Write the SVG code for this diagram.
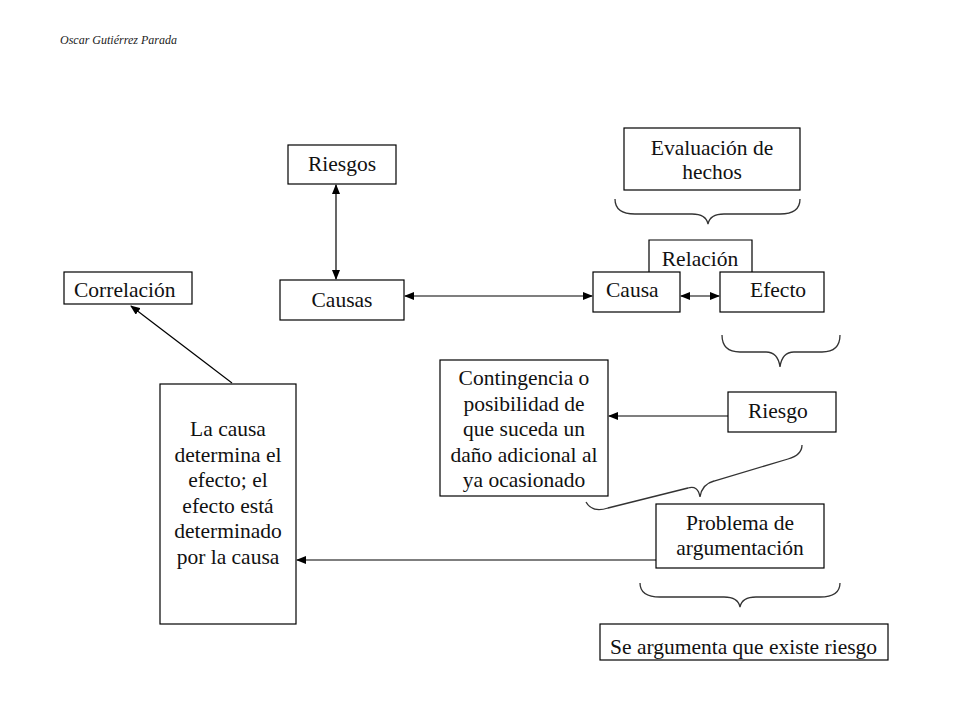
<svg xmlns="http://www.w3.org/2000/svg" width="960" height="720" viewBox="0 0 960 720">
<defs>
<style>
.box{fill:#fff;stroke:#000;stroke-width:1.2}
.t{font-family:"Liberation Serif","Times New Roman",serif;font-size:21.5px;fill:#111}
.c{text-anchor:middle}
.ln{fill:none;stroke:#000;stroke-width:1.2}
.br{fill:none;stroke:#333;stroke-width:1.3}
</style>
<marker id="ah" markerWidth="10" markerHeight="8" refX="9" refY="4" orient="auto-start-reverse" markerUnits="userSpaceOnUse">
<path d="M0,0 L10,4 L0,8 Z" fill="#000"/>
</marker>
</defs>
<rect width="960" height="720" fill="#fff"/>
<text x="60" y="44" style="font-family:'Liberation Serif',serif;font-style:italic;font-size:12px;fill:#222">Oscar Gutiérrez Parada</text>

<g id="connectors">
<line class="ln" x1="336" y1="185" x2="336" y2="279" marker-start="url(#ah)" marker-end="url(#ah)"/>
<line class="ln" x1="405" y1="296" x2="592" y2="296" marker-start="url(#ah)" marker-end="url(#ah)"/>
<line class="ln" x1="681" y1="296" x2="719" y2="296" marker-start="url(#ah)" marker-end="url(#ah)"/>
<line class="ln" x1="728" y1="416" x2="609" y2="416" marker-end="url(#ah)"/>
<line class="ln" x1="656" y1="560" x2="297" y2="560" marker-end="url(#ah)"/>
<line class="ln" x1="232" y1="383" x2="131" y2="306" marker-end="url(#ah)"/>
</g>

<g id="braces">
<path class="br" d="M615,199 Q615,214 635,214 L692,214 Q706,214 708,224 Q710,214 724,214 L780,214 Q800,214 800,199"/>
<path class="br" d="M722,335 Q722,352 740,352 L766,352 Q778,352 780,367 Q782,352 794,352 L822,352 Q840,352 840,335"/>
<path class="br" d="M586,502 Q592,513 608,508 L688,488 Q698,485 700,497 Q702,484 714,481 L788,459 Q802,455 802,445"/>
<path class="br" d="M640,583 Q640,597 660,597 L724,597 Q738,597 740,607 Q742,597 756,597 L820,597 Q840,597 840,583"/>
</g>

<g id="riesgos"><rect class="box" x="288" y="145" width="108" height="39"/><text class="t c" x="342" y="171">Riesgos</text></g>
<g id="causas"><rect class="box" x="280" y="280" width="124" height="40"/><text class="t c" x="342" y="307">Causas</text></g>
<g id="correlacion"><rect class="box" x="64" y="272" width="128" height="32"/><text class="t" x="74" y="297">Correlación</text></g>
<g id="evaluacion"><rect class="box" x="624" y="128" width="176" height="62"/><text class="t c" x="712" y="155">Evaluación de</text><text class="t c" x="712" y="179">hechos</text></g>
<g id="relacion"><path class="box" d="M649,272 V240 H752 V272"/><text class="t c" x="700" y="266">Relación</text></g>
<g id="causa"><rect class="box" x="593" y="272" width="87" height="40"/><text class="t" x="606" y="297">Causa</text></g>
<g id="efecto"><rect class="box" x="720" y="272" width="104" height="40"/><text class="t" x="750" y="297">Efecto</text></g>
<g id="contingencia"><rect class="box" x="440" y="360" width="168" height="136"/>
<text class="t c" x="524" y="385">Contingencia o</text>
<text class="t c" x="524" y="410.5">posibilidad de</text>
<text class="t c" x="524" y="436">que suceda un</text>
<text class="t c" x="524" y="461.5">daño adicional al</text>
<text class="t c" x="524" y="487">ya ocasionado</text></g>
<g id="riesgo"><rect class="box" x="728" y="392" width="108" height="40"/><text class="t" x="748" y="418">Riesgo</text></g>
<g id="problema"><rect class="box" x="656" y="504" width="168" height="64"/><text class="t c" x="740" y="530">Problema de</text><text class="t c" x="740" y="555">argumentación</text></g>
<g id="lacausa"><rect class="box" x="160" y="384" width="136" height="240"/>
<text class="t c" x="228" y="436">La causa</text>
<text class="t c" x="228" y="461.5">determina el</text>
<text class="t c" x="228" y="487">efecto; el</text>
<text class="t c" x="228" y="512.5">efecto está</text>
<text class="t c" x="228" y="538">determinado</text>
<text class="t c" x="228" y="563.5">por la causa</text></g>
<g id="seargumenta"><rect class="box" x="600" y="624" width="288" height="36"/><text class="t" x="610" y="654">Se argumenta que existe riesgo</text></g>
</svg>
